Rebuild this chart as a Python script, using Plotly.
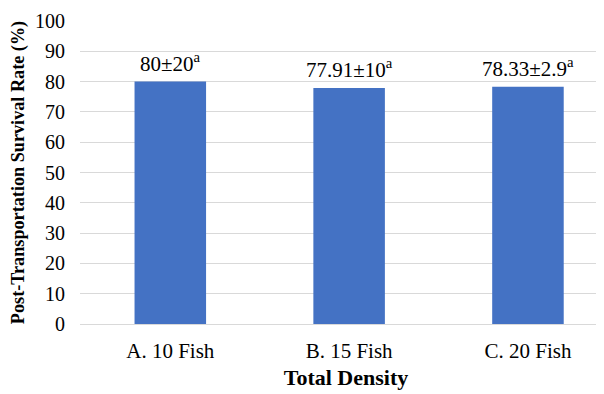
import plotly.graph_objects as go

categories = ["A. 10 Fish", "B. 15 Fish", "C. 20 Fish"]
survival = [80, 77.91, 78.33]
labels = ["80±20<sup>a</sup>", "77.91±10<sup>a</sup>", "78.33±2.9<sup>a</sup>"]
y_ticks = [0, 10, 20, 30, 40, 50, 60, 70, 80, 90, 100]

fig = go.Figure()
fig.add_trace(go.Bar(
    x=categories, y=survival, width=0.4,
    marker=dict(color="#4472C4", line=dict(width=0)),
))

for c, v, t in zip(categories, survival, labels):
    fig.add_annotation(
        x=c, y=v, text=t, showarrow=False, yanchor="bottom", yshift=4,
        font=dict(family="Liberation Serif", size=21, color="#000000"),
    )

fig.update_layout(
    width=604, height=394,
    paper_bgcolor="white", plot_bgcolor="white",
    margin=dict(l=72, r=0, t=13, b=78),
    showlegend=False,
    font=dict(family="Liberation Serif", color="#000000"),
)
fig.update_xaxes(
    range=[-0.505, 2.47], automargin=False,
    tickfont=dict(size=21, family="Liberation Serif"),
    title=dict(text="<b>Total Density</b>", font=dict(size=22, family="Liberation Serif"), standoff=7),
    showline=False, ticks="", showgrid=False, ticklabelstandoff=12,
)
fig.update_yaxes(
    range=[0, 100], tickvals=y_ticks, automargin=False,
    tickfont=dict(size=20, family="Liberation Serif"),
    title=dict(text="<b>Post-Transportation Survival Rate (%)</b>", font=dict(size=18.2, family="Liberation Serif"), standoff=9),
    showgrid=True, gridcolor="#d9d9d9", gridwidth=1,
    zeroline=True, zerolinecolor="#d9d9d9", zerolinewidth=1,
    ticks="", ticklabelstandoff=14,
)

fig.write_html("out.html")
